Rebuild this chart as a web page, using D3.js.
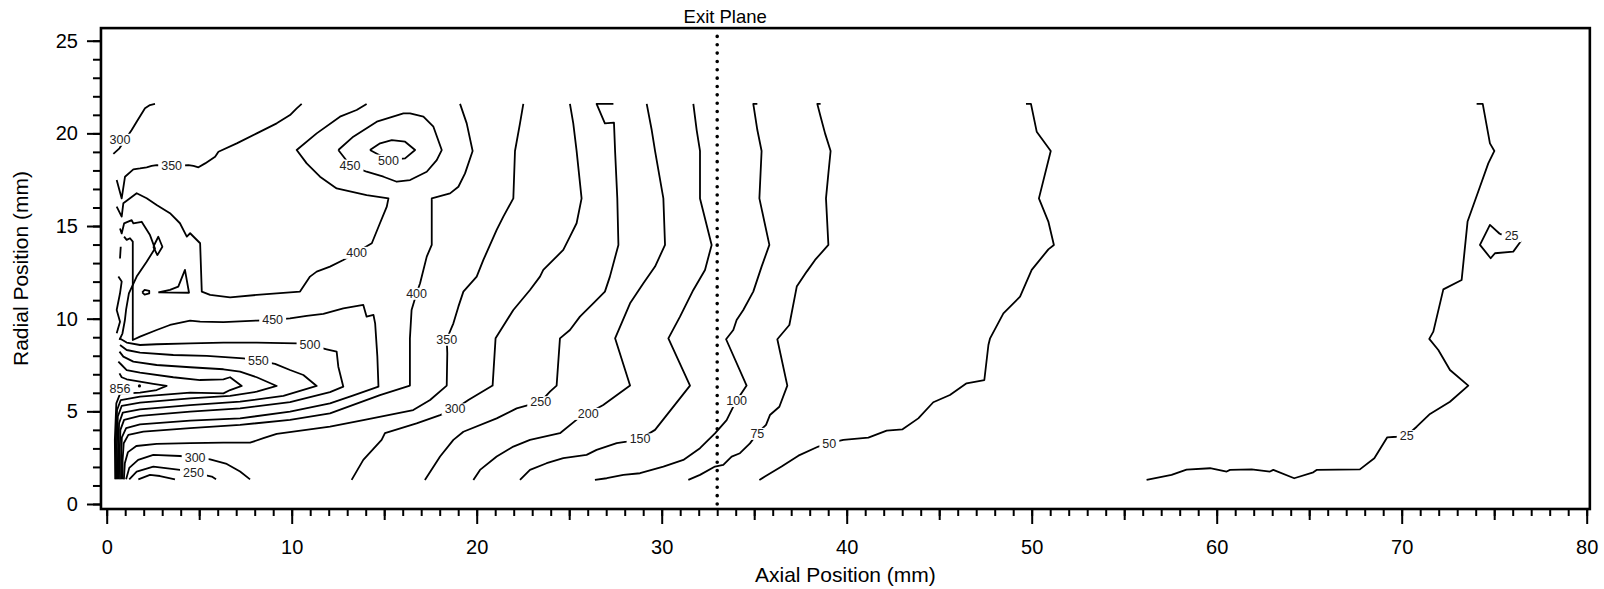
<!DOCTYPE html>
<html><head><meta charset="utf-8">
<script src="https://cdn.jsdelivr.net/npm/d3@7"></script>
<style>body{margin:0;background:#fff}svg text{font-family:"Liberation Sans",Arial,Helvetica,sans-serif}</style>
</head><body><svg id="chart" width="1604" height="589"></svg>
<script>
// ---- axis ticks ----
const xMajorTicks = [0,10,20,30,40,50,60,70,80];
const xMidTicks = [5,15,25,35,45,55,65,75];
const yMajorTicks = [0,5,10,15,20,25];
const xLabel = "Axial Position (mm)";
const yLabel = "Radial Position (mm)";
const exitPlaneX = 33;
const exitPlaneTop = 25.35;

// ---- contour lines (mm, mm) ----
const c25a = [[74.05,21.59],[74.38,21.59],[74.77,19.46],[75.01,19.05],[74.68,18.38],[74.23,17.12],[73.56,15.24],[73.24,12.09],[72.25,11.58],[71.71,9.30],[71.49,8.91],[71.98,8.31],[72.61,7.23],[73.60,6.39],[72.61,5.52],[71.53,4.86],[70.81,4.17],[70.27,3.69],[69.73,3.63],[69.22,3.60],[68.52,2.47],[67.74,1.87],[65.40,1.84],[65.22,1.71],[64.19,1.39],[63.06,1.84],[62.88,1.75],[61.89,1.87],[60.72,1.84],[60.54,1.75],[59.64,1.93],[58.37,1.85],[57.56,1.57],[56.21,1.30]];
const c25b = [[75.31,14.57],[74.77,15.06],[74.23,13.98],[74.81,13.26],[75.04,13.53],[76.03,13.62],[76.43,14.16],[75.94,14.48],[75.31,14.57]];
const c50 = [[49.69,21.59],[49.96,21.59],[50.27,20.09],[51.03,19.05],[50.39,16.49],[50.90,15.24],[51.20,13.98],[50.90,13.74],[50.00,12.63],[49.37,11.19],[48.47,10.29],[47.75,8.94],[47.66,8.58],[47.44,6.69],[46.48,6.51],[45.58,5.88],[44.68,5.49],[43.87,4.62],[43.02,4.03],[42.16,3.96],[41.17,3.58],[39.82,3.46],[39.06,3.28],[38.47,3.10],[37.39,2.61],[36.48,2.02],[35.58,1.48],[35.28,1.30]];
const c75 = [[38.59,21.59],[38.41,21.59],[38.59,20.90],[38.83,20.00],[39.13,19.05],[39.01,17.84],[38.88,16.49],[39.01,13.98],[38.29,13.17],[37.84,12.54],[37.30,11.73],[36.90,9.66],[36.25,8.89],[36.79,6.39],[36.36,5.25],[35.85,4.80],[35.64,4.27],[35.17,3.81],[34.77,3.27],[34.23,2.74],[33.78,2.56],[33.33,2.11],[32.88,2.02],[32.07,1.57],[31.44,1.30]];
const c100 = [[35.17,21.59],[34.95,21.59],[35.17,20.18],[35.40,19.05],[35.28,16.49],[35.82,13.98],[35.40,12.81],[34.95,11.46],[34.41,10.47],[34.05,9.93],[33.87,9.39],[33.48,8.89],[34.59,6.39],[34.05,5.58],[33.87,5.25],[33.51,4.53],[32.88,3.81],[32.07,3.01],[31.17,2.38],[30.09,2.02],[28.83,1.66],[27.93,1.57],[27.03,1.39],[26.39,1.30]];
const c150 = [[31.71,21.59],[31.89,20.18],[32.07,19.05],[32.07,16.49],[32.70,13.98],[32.34,12.63],[31.71,11.55],[30.99,10.11],[30.36,8.94],[31.53,6.39],[29.64,4.00],[28.83,3.51],[28.11,3.37],[27.57,3.28],[26.48,2.92],[25.94,2.65],[24.68,2.47],[23.78,2.20],[22.88,1.84],[22.34,1.30]];
const c200 = [[29.19,21.59],[29.46,20.18],[29.64,19.05],[30.09,16.49],[30.18,13.98],[29.64,12.81],[29.01,11.91],[28.29,10.83],[27.48,8.94],[28.29,6.39],[26.84,5.34],[26.03,4.89],[25.49,4.62],[24.50,3.82],[22.88,3.46],[21.98,3.10],[21.08,2.56],[20.18,1.84],[19.82,1.30]];
const c250 = [[27.39,21.59],[26.48,21.59],[26.93,20.54],[27.42,20.58],[27.48,19.05],[27.60,16.49],[27.66,13.98],[27.20,12.27],[26.93,11.46],[26.30,10.83],[25.58,10.11],[25.04,9.39],[24.50,8.94],[24.32,6.39],[23.96,6.06],[23.46,5.52],[22.16,5.16],[21.08,4.62],[19.28,3.90],[18.74,3.46],[18.02,2.56],[17.20,1.30]];
const c250b = [[1.22,1.33],[1.62,1.75],[2.52,2.02],[3.96,1.84],[4.69,1.69],[5.68,1.48],[5.91,1.33]];
const c200b = [[1.71,1.33],[2.34,1.57],[2.88,1.51],[3.69,1.33]];
const c300 = [[25.04,21.59],[25.22,20.54],[25.40,19.05],[25.67,16.49],[25.40,15.15],[25.04,14.43],[24.68,13.71],[23.60,12.63],[23.42,12.27],[22.88,11.55],[21.98,10.47],[21.02,8.94],[20.86,6.39],[19.55,5.61],[18.83,5.13],[18.02,4.80],[16.75,4.35],[15.04,3.82],[14.86,3.46],[13.87,2.38],[13.24,1.30]];
const c300b = [[1.05,1.33],[1.22,1.95],[1.70,2.38],[2.52,2.65],[3.96,2.59],[4.78,2.52],[5.59,2.41],[6.49,2.16],[7.21,1.75],[7.75,1.33]];
const c300c = [[0.36,18.89],[0.69,19.19],[1.35,20.18],[1.62,20.63],[2.07,21.35],[2.34,21.53],[2.61,21.59]];
const c350 = [[22.52,21.59],[22.34,20.54],[22.07,19.05],[21.98,16.49],[21.44,15.51],[21.08,14.79],[20.36,13.17],[20.00,12.27],[19.28,11.46],[19.01,10.65],[18.74,9.75],[18.38,8.89],[18.41,8.13],[18.38,6.39],[17.48,5.61],[16.57,5.07],[13.87,4.53],[12.07,4.17],[9.19,3.78],[8.47,3.55],[7.75,3.31],[6.31,3.31],[4.51,3.28],[2.70,3.24],[1.60,3.13],[1.15,2.80],[0.98,2.20],[0.93,1.33]];
const c350b = [[0.54,17.48],[0.81,16.49],[0.99,17.66],[1.44,18.06],[1.80,18.11],[2.16,18.17],[2.43,18.24],[2.70,18.29],[3.51,18.24],[4.42,18.29],[4.69,18.24],[4.96,18.17],[5.32,18.38],[5.86,18.74],[6.04,19.01],[7.03,19.46],[8.11,20.00],[9.19,20.54],[9.91,20.99],[10.27,21.35],[10.54,21.59]];
const c400a = [[0.54,16.05],[0.81,15.51],[0.90,16.23],[1.62,16.77],[2.16,16.50],[2.70,16.14],[3.42,15.69],[3.96,15.15],[4.33,14.43],[4.51,14.61],[5.05,14.07],[5.14,11.46],[5.59,11.28],[6.67,11.15],[8.11,11.28],[10.45,11.46],[10.99,12.27],[11.35,12.54],[12.07,12.81],[12.79,13.17],[13.51,13.58],[14.33,14.07],[14.77,15.15],[15.14,16.05],[15.23,16.49],[14.05,16.67],[12.43,17.03],[11.53,17.66],[10.81,18.38],[10.27,19.10],[11.35,20.00],[12.61,20.90],[13.51,21.26],[14.05,21.59]];
const c400b = [[19.10,21.59],[19.46,20.54],[19.78,19.05],[19.37,17.84],[19.01,17.12],[18.56,16.76],[17.57,16.49],[17.57,13.98],[17.30,13.35],[16.94,11.91],[16.75,11.37],[16.48,10.47],[16.39,8.94],[16.39,6.39],[14.77,5.88],[12.07,4.89],[9.91,4.54],[7.21,4.27],[4.51,4.09],[1.98,3.91],[1.17,3.73],[0.92,3.28],[0.86,2.38],[0.86,1.33]];
const c450a = [[0.94,14.43],[1.08,14.25],[1.26,14.34],[1.41,14.16],[1.41,11.55],[1.41,8.85],[1.80,9.03],[2.70,9.39],[3.42,9.66],[4.51,9.90],[5.05,9.84],[6.31,9.81],[8.11,9.90],[8.97,9.93],[9.91,10.02],[10.81,10.15],[11.71,10.26],[12.79,10.56],[13.33,10.65],[13.87,10.74],[14.05,10.11],[14.42,10.20],[14.51,9.75],[14.63,7.95],[14.69,6.33],[13.30,5.85],[12.07,5.43],[9.91,4.98],[7.21,4.62],[4.51,4.50],[1.80,4.30],[1.05,4.10],[0.82,3.60],[0.78,2.56],[0.79,1.33]];
const c450b = [[12.52,19.10],[13.33,19.82],[14.60,20.63],[16.04,21.08],[16.40,21.08],[17.12,20.90],[17.66,20.36],[18.11,19.10],[17.84,18.56],[17.30,17.93],[16.40,17.48],[15.68,17.39],[14.96,17.66],[14.05,17.93],[13.15,18.29],[12.52,19.10]];
const c500a = [[0.69,8.94],[1.08,8.71],[1.80,8.58],[2.70,8.62],[4.51,8.67],[6.31,8.71],[8.11,8.71],[10.27,8.67],[10.99,8.58],[11.89,8.35],[12.43,8.22],[12.52,7.41],[12.79,6.33],[12.07,6.04],[9.91,5.50],[7.21,5.16],[4.51,4.98],[1.80,4.75],[0.94,4.54],[0.74,4.00],[0.70,2.74],[0.72,1.33]];
const c500b = [[14.23,19.10],[14.78,19.46],[15.41,19.64],[16.13,19.55],[16.67,19.10],[16.13,18.65],[15.23,18.56],[14.23,19.10]];
const c550 = [[0.72,8.58],[1.08,8.31],[1.80,8.17],[3.60,8.04],[5.41,7.99],[7.39,7.86],[8.20,7.74],[9.10,7.56],[9.91,7.23],[10.63,6.96],[11.35,6.37],[9.55,5.83],[7.21,5.52],[4.51,5.34],[1.80,5.11],[0.87,4.93],[0.67,4.36],[0.62,2.92],[0.65,1.33]];
const c600 = [[0.69,8.22],[0.90,7.95],[1.44,7.68],[2.70,7.50],[4.51,7.38],[6.31,7.27],[7.21,7.14],[8.11,6.84],[9.19,6.37],[8.11,6.06],[6.67,5.83],[4.51,5.70],[1.80,5.47],[0.81,5.29],[0.60,4.72],[0.55,3.10],[0.58,1.33]];
const c650 = [[0.63,7.68],[0.81,7.50],[1.08,7.23],[1.80,7.09],[3.60,6.84],[5.05,6.69],[6.31,6.73],[6.67,6.84],[7.30,6.37],[6.67,6.15],[6.31,5.97],[4.51,6.01],[1.80,5.79],[0.76,5.61],[0.56,5.07],[0.49,3.28],[0.52,1.33]];
const c700 = [[0.69,7.05],[0.81,6.84],[1.08,6.73],[1.80,6.60],[2.52,6.48],[3.24,6.37],[2.70,6.15],[1.80,6.01],[0.72,5.94],[0.52,5.43],[0.44,3.46],[0.46,1.33]];
const edgeA = [[0.76,13.88],[0.72,13.25]];
const edgeB = [[0.63,12.27],[0.81,12.00],[0.72,11.37],[0.54,10.47],[0.72,9.84],[0.54,9.21]];
const edgeC = [[0.72,14.87],[0.81,14.60],[0.94,15.14],[1.35,15.32],[1.44,15.14],[1.89,15.23],[2.34,14.51],[2.61,13.79],[2.16,13.07],[1.62,12.27],[1.20,11.37],[1.05,10.50],[0.98,9.90],[0.85,9.20],[0.69,8.85]];
const loopDiamond = [[2.52,13.88],[2.79,14.42],[3.01,13.88],[2.74,13.43],[2.52,13.88]];
const loopOval = [[1.92,11.42],[2.05,11.55],[2.30,11.50],[2.30,11.36],[2.05,11.30],[1.92,11.42]];
const loopTri = [[2.79,11.42],[3.42,11.55],[3.87,11.73],[4.23,12.63],[4.45,11.40],[2.79,11.42]];

const contourLines = [c25a,c25b,c50,c75,c100,c150,c200,c200b,c250,c250b,c300,c300b,c300c,c350,c350b,c400a,c400b,c450a,c450b,c500a,c500b,c550,c600,c650,c700,edgeA,edgeB,edgeC,loopDiamond,loopOval,loopTri];

// ---- contour labels: text, x (mm), y (mm) ----
const contourLabels = [["300",0.72,19.68],["350",3.51,18.24],["450",13.15,18.29],["500",15.23,18.56],["400",13.51,13.58],["400",16.75,11.37],["450",8.97,9.93],["500",10.99,8.58],["550",8.20,7.74],["350",18.38,8.89],["856",0.72,6.24],["300",18.83,5.13],["250",23.46,5.52],["200",26.03,4.89],["150",28.83,3.51],["100",34.05,5.58],["75",35.17,3.81],["50",39.06,3.28],["25",70.27,3.69],["25",75.94,14.48],["300",4.78,2.52],["250",4.69,1.69]];
const peakPoint = [1.77,6.37];

// ---- drawing ----
const svg = d3.select("#chart");
const x = d3.scaleLinear().domain([0,80]).range([106.7,1586.7]);
const y = d3.scaleLinear().domain([0,25]).range([504,40.7]);
const frameL = x(-0.31), frameR = x(80.17), frameT = y(25.68), frameB = y(-0.27);

const xAll = d3.range(0,81);
svg.append("g").attr("transform",`translate(0,${frameB})`)
  .call(d3.axisBottom(x).tickValues(xAll).tickSize(7).tickFormat(""));
svg.append("g").attr("transform",`translate(0,${frameB})`)
  .call(d3.axisBottom(x).tickValues(xMidTicks).tickSize(11).tickFormat(""));
const gx = svg.append("g").attr("transform",`translate(0,${frameB})`)
  .call(d3.axisBottom(x).tickValues(xMajorTicks).tickSize(15).tickPadding(16).tickFormat(d3.format("d")));
const yAll = d3.range(0,26);
svg.append("g").attr("transform",`translate(${frameL},0)`)
  .call(d3.axisLeft(y).tickValues(yAll).tickSize(8).tickFormat(""));
const gy = svg.append("g").attr("transform",`translate(${frameL},0)`)
  .call(d3.axisLeft(y).tickValues(yMajorTicks).tickSize(14).tickPadding(9).tickFormat(d3.format("d")));
svg.selectAll(".domain").remove();
svg.selectAll(".tick line").attr("stroke","#000").attr("stroke-width",2);
gx.selectAll("text").attr("font-size",20).attr("fill","#000");
gy.selectAll("text").attr("font-size",20).attr("fill","#000");

svg.append("rect").attr("x",frameL).attr("y",frameT).attr("width",frameR-frameL).attr("height",frameB-frameT)
  .attr("fill","none").attr("stroke","#000").attr("stroke-width",2.6);

const line = d3.line().x(d=>x(d[0])).y(d=>y(d[1]));
svg.append("g").selectAll("path").data(contourLines).join("path")
  .attr("d",line).attr("fill","none").attr("stroke","#000").attr("stroke-width",1.8).attr("stroke-linejoin","round");

const lg = svg.append("g");
contourLabels.forEach(([t,lx,ly])=>{
  const g = lg.append("g");
  const r = g.append("rect").attr("fill","#fff");
  const tx = g.append("text").attr("x",x(lx)).attr("y",y(ly)).attr("text-anchor","middle")
    .attr("dy","0.36em").attr("font-size",12.5).attr("fill","#222").text(t);
  const b = tx.node().getBBox();
  r.attr("x",b.x-3).attr("y",b.y+1).attr("width",b.width+6).attr("height",b.height-2);
});
svg.append("circle").attr("cx",x(peakPoint[0])).attr("cy",y(peakPoint[1])).attr("r",1.6).attr("fill","#000");

svg.append("line").attr("x1",x(exitPlaneX)).attr("x2",x(exitPlaneX)).attr("y1",y(0)).attr("y2",y(exitPlaneTop))
  .attr("stroke","#000").attr("stroke-width",3.6).attr("stroke-linecap","round").attr("stroke-dasharray","0,8.35");
svg.append("text").attr("x",x(exitPlaneX)+8).attr("y",23).attr("text-anchor","middle").attr("font-size",18.5).text("Exit Plane");

svg.append("text").attr("x",(frameL+frameR)/2).attr("y",582).attr("text-anchor","middle").attr("font-size",21).text(xLabel);
svg.append("text").attr("transform",`translate(28,${(frameT+frameB)/2}) rotate(-90)`).attr("text-anchor","middle").attr("font-size",21).text(yLabel);
</script></body></html>
